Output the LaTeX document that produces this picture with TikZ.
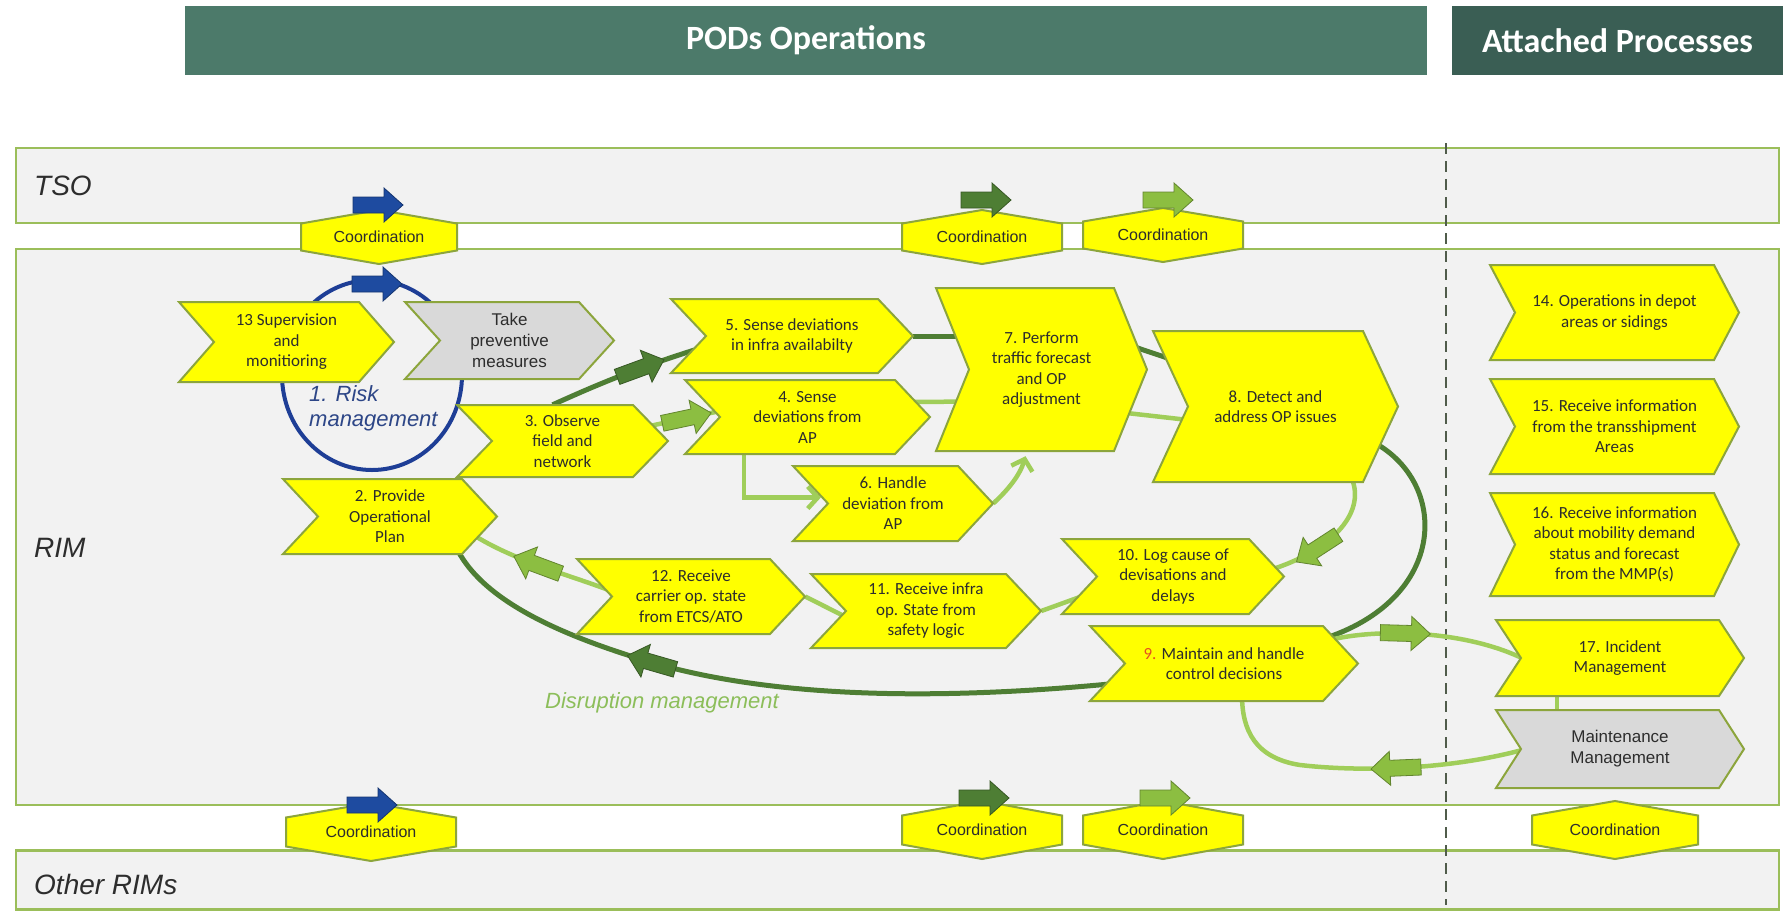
\documentclass[tikz,border=0pt]{standalone}
\usepackage{fontspec}
\setmainfont{Carlito}
\newfontfamily\arialfont{Liberation Sans}
\usepackage{tikz}
\usetikzlibrary{positioning}
\usetikzlibrary{calc}
\usetikzlibrary{arrows.meta,shapes.geometric,decorations.markings}

\definecolor{lanefill}{RGB}{242,242,242}
\definecolor{laneline}{RGB}{155,190,90}
\definecolor{procyellow}{RGB}{255,255,0}
\definecolor{procgray}{RGB}{217,217,217}
\definecolor{procline}{RGB}{140,165,60}
\definecolor{dkgreen}{RGB}{78,126,52}
\definecolor{ltgreen}{RGB}{160,206,90}
\definecolor{ltarrow}{RGB}{140,190,65}
\definecolor{riskblue}{RGB}{30,62,150}
\definecolor{arrblue}{RGB}{30,75,160}
\definecolor{podsbar}{RGB}{76,122,106}
\definecolor{attbar}{RGB}{58,94,84}
\definecolor{txtgray}{RGB}{45,45,45}
\definecolor{risktxt}{RGB}{45,70,135}
\definecolor{disrupt}{RGB}{140,190,90}
\definecolor{ninered}{RGB}{230,80,30}
\definecolor{divgray}{RGB}{80,92,75}

\pgfdeclarelayer{lanes}
\pgfdeclarelayer{lines}
\pgfsetlayers{lanes,lines,main}

% chevron box: [depth]{name}{x1}{y1}{x2}{y2}{look}{text}
\newcommand{\proc}[8][35]{%
	\filldraw[procbox,#7] (#3,#4) -- ({#5-#1},#4) -- (#5,{(#4+#6)/2})
		-- ({#5-#1},#6) -- (#3,#6) -- ({#3+#1},{(#4+#6)/2}) -- cycle;
	\node[proctext,#7 txt,minimum width={(#5-#3)*1pt},minimum height={(#6-#4)*1pt}]
		(#2) at ({(#3+#5)/2},{(#4+#6)/2}) {#8};}
% coordination hexagon: {name}{cx}{cy}{half width}{half height}
\newcommand{\coordhex}[5]{%
	\filldraw[hexbox] ({#2-#4},{#3-#5/2}) -- (#2,{#3-#5}) -- ({#2+#4},{#3-#5/2})
		-- ({#2+#4},{#3+#5/2}) -- (#2,{#3+#5}) -- ({#2-#4},{#3+#5/2}) -- cycle;
	\node[hextext] (#1) at (#2,#3) {Coordination};}
% block arrow pointing along local x
\newcommand{\fatpoly}[1]{%
	\filldraw[fill=#1,draw=#1!70!black,line width=0.8pt]
		(-25,-8) -- (6,-8) -- (6,-17) -- (25,0) -- (6,17) -- (6,8) -- (-25,8) -- cycle;}

\begin{document}
\begin{tikzpicture}[x=1pt,y=-1pt,
	lane/.style={draw=laneline,fill=lanefill,line width=2.5pt,inner sep=0pt},
	lanelabel/.style={anchor=west,inner sep=0pt,text=txtgray,font=\arialfont\itshape\fontsize{28}{32}\selectfont},
	headbar/.style={inner sep=0pt,text=white,font=\bfseries\fontsize{34}{40}\selectfont},
	procbox/.style={draw=procline,line width=2pt},
	yel/.style={fill=procyellow},
	gry/.style={fill=procgray},
	yel txt/.style={},
	gry txt/.style={font=\arialfont\fontsize{17}{21}\selectfont},
	proctext/.style={inner sep=0pt,align=center,text=txtgray,font=\fontsize{17}{20.5}\selectfont},
	hexbox/.style={fill=procyellow,draw=procline,line width=2pt},
	hextext/.style={inner sep=0pt,text=txtgray,font=\arialfont\fontsize{16}{19}\selectfont},
	dkline/.style={draw=dkgreen,line width=5pt},
	ltline/.style={draw=ltgreen,line width=4.5pt},
	divider/.style={draw=divgray,line width=2pt,dash pattern=on 11pt off 7pt},
	fatarr/.pic={\fatpoly{#1}},
	fatmark/.style 2 args={postaction={decorate,decoration={markings,
		mark=at position #1 with {\fatpoly{#2}}}}},
	barb/.style={-{Straight Barb[length=10pt,width=22pt]}}]
	\useasboundingbox (0,0) rectangle (1790,913);

	\begin{pgfonlayer}{lanes}
		\fill[white] (0,0) rectangle (1790,913);
		\node[lane,minimum width=1763pt,minimum height=75pt] (tso) at (897.5,185.5) {};
		\node[lane,minimum width=1763pt,minimum height=556pt] (rim) at (897.5,527) {};
		\node[lane,minimum width=1763pt,minimum height=59pt] (other) at (897.5,880) {};
	\end{pgfonlayer}

	\node[headbar,fill=podsbar,minimum width=1242pt,minimum height=69pt] (pods) at (806,40.5) {PODs Operations};
	\node[headbar,fill=attbar,minimum width=331pt,minimum height=69pt] (attached) at (1617.5,40.5) {Attached Processes};

	\node[lanelabel] (tsolabel) at (34,186) {TSO};
	\node[lanelabel] (rimlabel) at (34,548) {RIM};
	\node[lanelabel] (otherlabel) at (34,884) {Other RIMs};

	\coordhex{co1}{379}{237}{78}{27}
	\coordhex{co2}{982}{237}{80}{27}
	\coordhex{co3}{1163}{235}{80}{27}
	\coordhex{co4}{371}{832}{85}{29}
	\coordhex{co5}{982}{830}{80}{29}
	\coordhex{co6}{1163}{830}{80}{29}
	\coordhex{co7}{1615}{830}{83}{29}

	\proc{p13}{179}{302}{394}{382}{yel}{13 Supervision\\and\\monitioring}
	\proc{ptake}{405}{302}{614}{379}{gry}{Take\\preventive\\measures}
	\proc{p5}{671}{299}{913}{373}{yel}{5. Sense deviations\\in infra availabilty}
	\proc[33]{p7}{936}{288}{1147}{451}{yel}{7. Perform\\traffic forecast\\and OP\\adjustment}
	\proc{p8}{1153}{331}{1398}{482}{yel}{8. Detect and\\address OP issues}
	\proc{p4}{685}{380}{930}{454}{yel}{4. Sense\\deviations from\\AP}
	\proc{p3}{457}{405}{668}{477}{yel}{3. Observe\\field and\\network}
	\proc{p2}{283}{479}{497}{554}{yel}{2. Provide\\Operational\\Plan}
	\proc{p6}{793}{466}{993}{541}{yel}{6. Handle\\deviation from\\AP}
	\proc{p12}{577}{559}{805}{634}{yel}{12. Receive\\carrier op. state\\from ETCS/ATO}
	\proc{p11}{811}{574}{1041}{648}{yel}{11. Receive infra\\op. State from\\safety logic}
	\proc{p10}{1062}{539}{1284}{614}{yel}{10. Log cause of\\devisations and\\delays}
	\proc{p9}{1090}{626}{1358}{701}{yel}{\textcolor{ninered}{9.} Maintain and handle\\control decisions}
	\proc[25]{p14}{1490}{265}{1739}{360}{yel}{14. Operations in depot\\areas or sidings}
	\proc[25]{p15}{1490}{379}{1739}{474}{yel}{15. Receive information\\from the transshipment\\Areas}
	\proc[25]{p16}{1490}{493}{1739}{596}{yel}{16. Receive information\\about mobility demand\\status and forecast\\from the MMP(s)}
	\proc[25]{p17}{1496}{620}{1744}{696}{yel}{17. Incident\\Management}
	\proc[25]{pmaint}{1496}{710}{1744}{788}{gry}{Maintenance\\Management}

	\pic at (378,205) {fatarr=arrblue};
	\pic at (986,200) {fatarr=dkgreen};
	\pic at (1168,200) {fatarr=ltarrow};
	\pic at (377,284) {fatarr=arrblue};
	\pic at (372,805) {fatarr=arrblue};
	\pic at (984,798) {fatarr=dkgreen};
	\pic at (1165,798) {fatarr=ltarrow};

	\node[anchor=west,align=left,inner sep=0pt,text=risktxt,font=\arialfont\itshape\fontsize{22}{25}\selectfont]
		(risklabel) at (309,408) {1. Risk\\management};
	\node[inner sep=0pt,text=disrupt,font=\arialfont\itshape\fontsize{22}{25}\selectfont]
		(disruption) at (662,703) {Disruption management};

	\begin{pgfonlayer}{lines}
		\node[draw=riskblue,line width=4pt,ellipse,minimum width=180pt,minimum height=190pt,inner sep=0pt] (risk) at (372,375) {};
		\coordinate (divtop) at (1446,143);
		\coordinate (divbot) at (1446,905);
		\draw[divider] (divtop) -- (divbot);
		% dark loop
		\draw[dkline,fatmark={0.6}{dkgreen}] ([xshift=-10pt]p3.north) .. controls (590,388) and (630,370) .. ([xshift=30pt,yshift=-12pt]p5.west);
		\draw[dkline] (p5.east) -- ([xshift=30pt]p5.east -| p7.west);
		\draw[dkline] ([xshift=-20pt,yshift=25pt]p7.east) -- ([xshift=25pt,yshift=45pt]p8.west);
		\draw[dkline] ([xshift=-28pt,yshift=-34pt]p8.east) .. controls (1450,480) and (1450,600) .. ([xshift=-38pt,yshift=-14pt]p9.north east);
		\draw[dkline,fatmark={0.67}{dkgreen}] ([xshift=35pt,yshift=-19pt]p9.west) .. controls (950,700) and (780,700) .. (650,662)
			.. controls (560,635) and (480,600) .. ([xshift=-42pt,yshift=9pt]p2.south east);
		% light loop
		\draw[ltline,fatmark={0.55}{ltarrow}] ([xshift=-28pt,yshift=13pt]p3.east) -- ([xshift=40pt,yshift=7pt]p4.west);
		\draw[ltline] ([xshift=-20pt,yshift=15pt]p4.east) -- ([xshift=40pt,yshift=-32pt]p7.west);
		\draw[ltline,barb] ([xshift=59pt]p4.south west) |- ([xshift=28pt,yshift=6pt]p6.west);
		\draw[ltline,barb] (p6.east) .. controls (1008,490) and (1020,475) .. ([xshift=-16pt,yshift=-5pt]p7.south);
		\draw[ltline] ([xshift=-25pt,yshift=-43pt]p7.east) -- ([xshift=40pt,yshift=-14pt]p8.west);
		\draw[ltline,fatmark={0.62}{ltarrow}] ([xshift=-48pt,yshift=7pt]p8.south east) .. controls (1368,510) and (1335,550) .. ([xshift=-16pt,yshift=6pt]p10.east);
		\draw[ltline] (p11.east) -- ([xshift=25pt,yshift=-18pt]p10.west);
		\draw[ltline] (p12.east) -- ([xshift=35pt,yshift=-6pt]p11.west);
		\draw[ltline,fatmark={0.5}{ltarrow}] ([xshift=33pt,yshift=6pt]p12.west) .. controls (570,575) and (510,560) .. ([xshift=-29pt,yshift=-15pt]p2.east);
		% attached processes
		\draw[ltline,fatmark={0.37}{ltarrow}] ([xshift=-28pt,yshift=-14pt]p9.north east) .. controls (1380,628) and (1470,630) .. ([xshift=34pt,yshift=-4pt]p17.west);
		\draw[ltline,fatmark={0.4}{ltarrow}] ([xshift=30pt]pmaint.west) .. controls (1450,770) and (1360,772) .. (1300,765)
			.. controls (1255,758) and (1242,730) .. ([xshift=18pt,yshift=6pt]p9.south);
		\draw[ltline] ([xshift=-63pt]p17.south) -- ([xshift=-63pt]pmaint.north);
	\end{pgfonlayer}
\end{tikzpicture}
\end{document}
